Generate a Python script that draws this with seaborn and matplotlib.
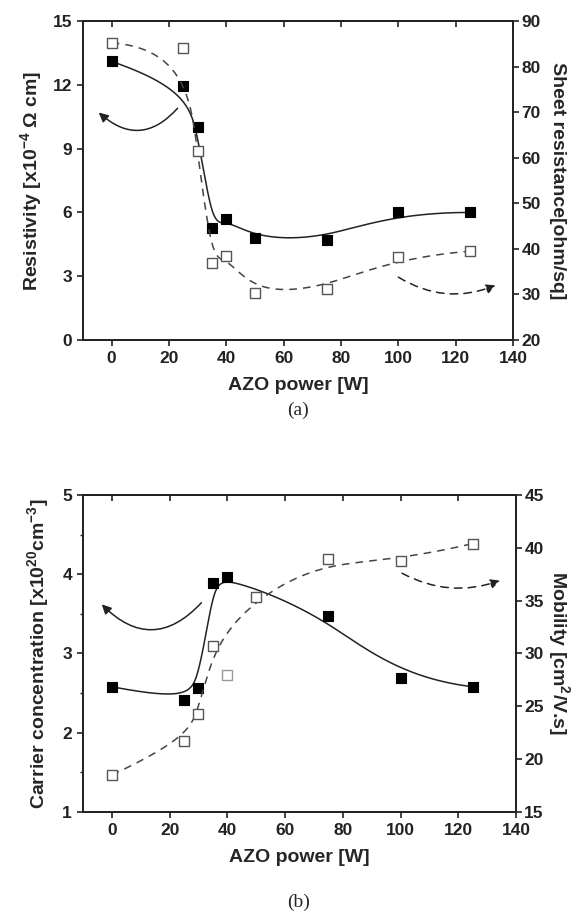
import numpy as np
import matplotlib
matplotlib.use("Agg")
import matplotlib.pyplot as plt
import seaborn as sns

# panel (a)
power_a = [0, 25, 30, 35, 40, 50, 75, 100, 125]
resistivity = [13.1, 11.94, 10.0, 5.26, 5.68, 4.8, 4.7, 6.0, 6.0]
sheet_res = [85.2, 84.1, 61.5, 36.9, 38.4, 30.3, 31.2, 38.2, 39.5]

# panel (b)
power_carrier = [0, 25, 30, 35, 40, 75, 100, 125]
carrier = [2.58, 2.41, 2.56, 3.89, 3.96, 3.47, 2.69, 2.58]
power_mob = [0, 25, 30, 35, 40, 50, 75, 100, 125]
mobility = [18.5, 21.7, 24.3, 30.7, 28.0, 35.3, 38.9, 38.8, 40.4]
mob_in_fit = [True, True, True, True, False, True, True, True, True]

x_ticks = [0, 20, 40, 60, 80, 100, 120, 140]

# curved guide arrows: (start, head, rad)
arrow_a_left = ((23, 10.9), (-4.5, 10.7), -0.5)
arrow_a_right = ((100, 33.8), (134, 32.0), 0.25)
arrow_b_left = ((31, 3.64), (-3.5, 3.62), -0.52)
arrow_b_right = ((100.5, 37.6), (134.5, 36.9), 0.22)


def bspline(px, py, n=400, k=3):
    # clamped uniform B-spline with the points as control points
    px = np.asarray(px, float)
    py = np.asarray(py, float)
    m = len(px)
    knots = np.concatenate([[0.0] * k, np.linspace(0, 1, m - k + 1), [1.0] * k])
    t = np.linspace(0, 1, n)
    t[-1] -= 1e-9
    B = np.zeros((n, len(knots) - 1))
    for i in range(len(knots) - 1):
        B[:, i] = (t >= knots[i]) & (t < knots[i + 1])
    for d in range(1, k + 1):
        Bn = np.zeros((n, len(knots) - 1 - d))
        for i in range(len(knots) - 1 - d):
            a = knots[i + d] - knots[i]
            b = knots[i + d + 1] - knots[i + 1]
            term = np.zeros(n)
            if a > 0:
                term += (t - knots[i]) / a * B[:, i]
            if b > 0:
                term += (knots[i + d + 1] - t) / b * B[:, i + 1]
            Bn[:, i] = term
        B = Bn
    return B @ px, B @ py


sns.set_style("ticks")
plt.rcParams["font.family"] = ["Liberation Sans", "DejaVu Sans"]
plt.rcParams["font.weight"] = "bold"
plt.rcParams["mathtext.fontset"] = "custom"
plt.rcParams["mathtext.bf"] = "Liberation Sans:bold"
plt.rcParams["mathtext.rm"] = "Liberation Sans:bold"
plt.rcParams["mathtext.default"] = "bf"

dark = "#222222"
fig = plt.figure(figsize=(5.87, 9.23), dpi=100)
ax_a = fig.add_axes([0.1414, 0.6316, 0.7325, 0.3456])
ax_b = fig.add_axes([0.1414, 0.1203, 0.7376, 0.3434])


def style_axes(ax, ax2):
    for a in (ax, ax2):
        for s in a.spines.values():
            s.set_linewidth(1.3)
            s.set_color(dark)
            s.set_visible(True)
    ax.set_xlim(-10, 140)
    ax.set_xticks(x_ticks)
    ax.tick_params(axis="both", which="major", direction="out", length=4, width=1.2,
                   labelsize=12.5, colors=dark, pad=4)
    ax2.tick_params(axis="y", which="major", direction="out", length=4, width=1.2,
                    labelsize=12.5, colors=dark, pad=2)
    for lab in ax.get_xticklabels() + ax.get_yticklabels() + ax2.get_yticklabels():
        lab.set_fontweight("bold")
    top = ax.secondary_xaxis("top")
    top.set_xticks(x_ticks)
    top.tick_params(direction="in", length=4, width=1.2, labeltop=False, colors=dark)
    top.spines["top"].set_linewidth(1.3)
    ax.set_xlabel("AZO power [W]", fontsize=14, fontweight="bold", labelpad=8)


def draw(ax, x, y, filled, fit_mask=None, ls="-"):
    x = np.asarray(x, float)
    y = np.asarray(y, float)
    mask = np.ones(len(x), bool) if fit_mask is None else np.asarray(fit_mask)
    cx, cy = bspline(x[mask], y[mask])
    ax.plot(cx, cy, ls, color=dark if filled else "#444444", lw=1.1,
            dashes=(5, 4) if ls == "--" else (None, None), zorder=2)
    if filled:
        sns.scatterplot(x=x, y=y, marker="s", s=55, color="black", edgecolor="black",
                        linewidth=0.8, ax=ax, zorder=3, legend=False)
    else:
        sns.scatterplot(x=x[mask], y=y[mask], marker="s", s=55, color="white",
                        edgecolor="#555555", linewidth=1.0, ax=ax, zorder=3, legend=False)
        if (~mask).any():
            sns.scatterplot(x=x[~mask], y=y[~mask], marker="s", s=55, color="white",
                            edgecolor="#999999", linewidth=1.0, ax=ax, zorder=3, legend=False)


def arrow(ax, spec, dashed=False):
    start, head, rad = spec
    ax.annotate("", xy=head, xytext=start,
                arrowprops=dict(arrowstyle="-|>", connectionstyle=f"arc3,rad={rad}",
                                lw=1.1, color=dark, mutation_scale=14,
                                linestyle=(0, (5, 4)) if dashed else "-",
                                shrinkA=0, shrinkB=0))


# ---- panel (a)
ax_a2 = ax_a.twinx()
draw(ax_a, power_a, resistivity, True)
draw(ax_a2, power_a, sheet_res, False, ls="--")
ax_a.set_ylim(0, 15)
ax_a.set_yticks([0, 3, 6, 9, 12, 15])
ax_a2.set_ylim(20, 90)
ax_a2.set_yticks([20, 30, 40, 50, 60, 70, 80, 90])
style_axes(ax_a, ax_a2)
ax_a.set_xlim(-10, 140)
ax_a.set_ylabel("Resistivity [x10$^{-4}$ Ω cm]", fontsize=14, fontweight="bold", labelpad=6)
ax_a2.set_ylabel("Sheet resistance[ohm/sq]", fontsize=14, fontweight="bold",
                 rotation=270, labelpad=18)
arrow(ax_a, arrow_a_left)
arrow(ax_a2, arrow_a_right, dashed=True)

# ---- panel (b)
ax_b2 = ax_b.twinx()
draw(ax_b, power_carrier, carrier, True)
draw(ax_b2, power_mob, mobility, False, fit_mask=mob_in_fit, ls="--")
ax_b.set_ylim(1, 5)
ax_b.set_yticks([1, 2, 3, 4, 5])
ax_b.set_yticks([1.5, 2.5, 3.5, 4.5], minor=True)
ax_b.tick_params(axis="y", which="minor", direction="out", length=2.5, width=1.0, colors=dark)
ax_b2.set_ylim(15, 45)
ax_b2.set_yticks([15, 20, 25, 30, 35, 40, 45])
style_axes(ax_b, ax_b2)
ax_b.set_xlim(-10, 140)
ax_b.set_ylabel("Carrier concentration [x10$^{20}$cm$^{-3}$]", fontsize=14,
                fontweight="bold", labelpad=8)
ax_b2.set_ylabel("Mobility [cm$^{2}$/V.s]", fontsize=14, fontweight="bold",
                 rotation=270, labelpad=20)
arrow(ax_b, arrow_b_left)
arrow(ax_b2, arrow_b_right, dashed=True)

fig.text(0.508, 1 - 410 / 923, "(a)", ha="center", va="center", fontsize=14,
         fontweight="normal", family=["Liberation Serif"])
fig.text(0.508, 1 - 902 / 923, "(b)", ha="center", va="center", fontsize=14,
         fontweight="normal", family=["Liberation Serif"])

fig.savefig("out.png", dpi=100)
